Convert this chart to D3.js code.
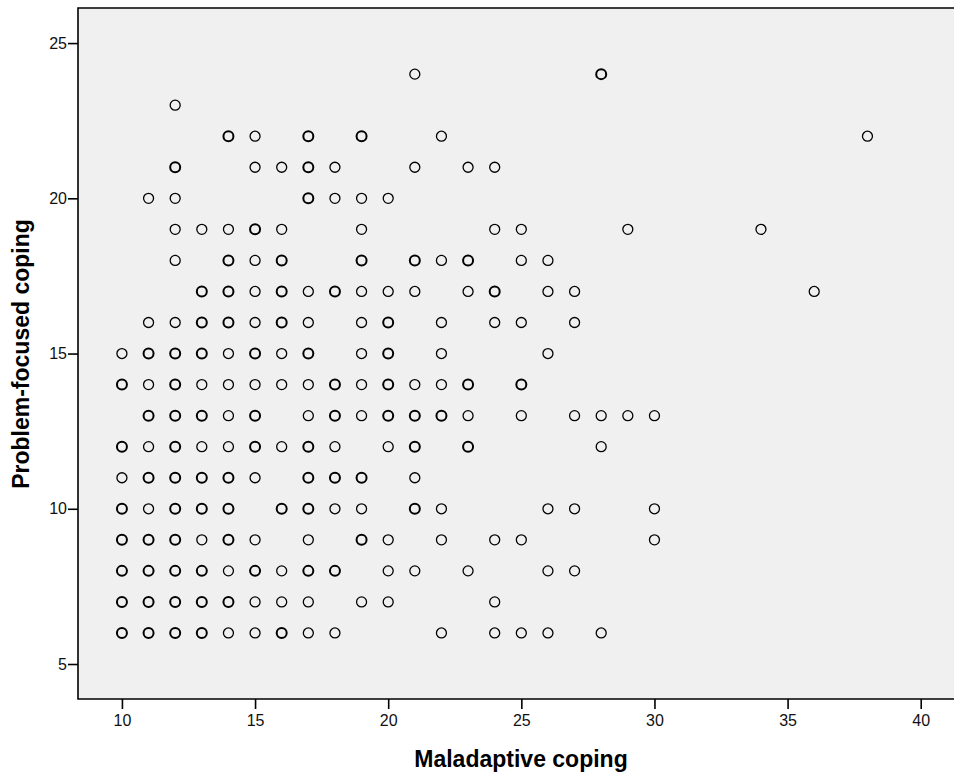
<!DOCTYPE html>
<html>
<head>
<meta charset="utf-8">
<script src="https://cdn.jsdelivr.net/npm/d3@7"></script>
<style>
  body { margin: 0; background: #ffffff; }
  text { font-family: "Liberation Sans", Arial, sans-serif; }
</style>
</head>
<body>
<div id="scatter"></div>
<script>
// values of Problem-focused coping (one row of points per level)
var problemLevels = [24, 23, 22, 21, 20, 19, 18, 17, 16, 15, 14, 13, 12, 11, 10, 9, 8, 7, 6]

// Maladaptive coping values seen on each level (same order as problemLevels)
var maladaptiveAtLevel = [
  [21, 28],
  [12],
  [14, 15, 17, 19, 22, 38],
  [12, 15, 16, 17, 18, 21, 23, 24],
  [11, 12, 17, 18, 19, 20],
  [12, 13, 14, 15, 16, 19, 24, 25, 29, 34],
  [12, 14, 15, 16, 19, 21, 22, 23, 25, 26],
  [13, 14, 15, 16, 17, 18, 19, 20, 21, 23, 24, 26, 27, 36],
  [11, 12, 13, 14, 15, 16, 17, 19, 20, 22, 24, 25, 27],
  [10, 11, 12, 13, 14, 15, 16, 17, 19, 20, 22, 26],
  [10, 11, 12, 13, 14, 15, 16, 17, 18, 19, 20, 21, 22, 23, 25],
  [11, 12, 13, 14, 15, 17, 18, 19, 20, 21, 22, 23, 25, 27, 28, 29, 30],
  [10, 11, 12, 13, 14, 15, 16, 17, 18, 20, 21, 23, 28],
  [10, 11, 12, 13, 14, 15, 17, 18, 19, 21],
  [10, 11, 12, 13, 14, 16, 17, 18, 19, 21, 22, 26, 27, 30],
  [10, 11, 12, 13, 14, 15, 17, 19, 20, 22, 24, 25, 30],
  [10, 11, 12, 13, 14, 15, 16, 17, 18, 20, 21, 23, 26, 27],
  [10, 11, 12, 13, 14, 15, 16, 17, 19, 20, 24],
  [10, 11, 12, 13, 14, 15, 16, 17, 18, 22, 24, 25, 26, 28]
]

// points that hold more than one case (drawn darker, like overlapping markers)
var repeatedAtLevel = [
  [28],
  [],
  [14, 17, 19],
  [12, 17],
  [17],
  [15],
  [14, 16, 19, 21, 23],
  [13, 14, 16, 18, 24],
  [13, 14, 16, 20],
  [11, 12, 13, 15, 17, 20],
  [10, 12, 18, 20, 23, 25],
  [11, 12, 13, 15, 18, 20, 21, 22],
  [10, 12, 15, 17, 21, 23],
  [11, 12, 13, 14, 17, 18, 19],
  [10, 12, 13, 14, 16, 17, 21],
  [10, 11, 12, 14, 19],
  [10, 11, 12, 13, 15, 17, 18],
  [10, 11, 12, 13, 14],
  [10, 11, 12, 13, 16]
]

var xTicks = [10, 15, 20, 25, 30, 35, 40]
var yTicks = [5, 10, 15, 20, 25]
var xTitle = "Maladaptive coping"
var yTitle = "Problem-focused coping"

// build the list of points from the rows
var points = []
for (var i = 0; i < problemLevels.length; i++) {
  for (var j = 0; j < maladaptiveAtLevel[i].length; j++) {
    var xv = maladaptiveAtLevel[i][j]
    points.push({
      x: xv,
      y: problemLevels[i],
      repeated: repeatedAtLevel[i].indexOf(xv) > -1
    })
  }
}

// sizes of the drawing
var widthSvg = 954
var heightSvg = 776
var plotLeft = 78
var plotRight = 953
var plotTop = 8
var plotBottom = 699

var svg = d3.select("#scatter")
  .append("svg")
  .attr("width", widthSvg)
  .attr("height", heightSvg)

// scales
var scaleX = d3.scaleLinear()
  .domain([8.35, 41.25])
  .range([plotLeft, plotRight + 1])

var scaleY = d3.scaleLinear()
  .domain([3.873, 26.13])
  .range([plotBottom, plotTop])

// grey plot area
svg.append("rect")
  .attr("x", plotLeft)
  .attr("y", plotTop)
  .attr("width", plotRight - plotLeft + 1)
  .attr("height", plotBottom - plotTop)
  .attr("fill", "#f0f0f0")

// frame lines (top, left, bottom)
svg.append("path")
  .attr("d", "M" + (plotRight + 1) + "," + plotTop + "H" + plotLeft + "V" + plotBottom + "H" + (plotRight + 1))
  .attr("fill", "none")
  .attr("stroke", "#000")
  .attr("stroke-width", 1.6)

// axes
var xAxis = d3.axisBottom(scaleX)
  .tickValues(xTicks)
  .tickSize(10)
  .tickPadding(6)

var yAxis = d3.axisLeft(scaleY)
  .tickValues(yTicks)
  .tickSize(10)
  .tickPadding(1)

var gx = svg.append("g")
  .attr("transform", "translate(0," + plotBottom + ")")
  .call(xAxis)

var gy = svg.append("g")
  .attr("transform", "translate(" + plotLeft + ",0)")
  .call(yAxis)

gx.select(".domain").remove()
gy.select(".domain").remove()

svg.selectAll(".tick line")
  .attr("stroke", "#000")
  .attr("stroke-width", 1.6)

svg.selectAll(".tick text")
  .attr("fill", "#111")
  .style("font-size", "16px")
  .style("font-family", "'Liberation Sans', Arial, sans-serif")

// the points
svg.append("g")
  .selectAll("circle")
  .data(points)
  .enter()
  .append("circle")
  .attr("cx", function(d) { return scaleX(d.x) })
  .attr("cy", function(d) { return scaleY(d.y) })
  .attr("r", 5)
  .attr("fill", "none")
  .attr("stroke", "#000")
  .attr("stroke-width", function(d) { return d.repeated ? 2 : 1.3 })

// axis titles
svg.append("text")
  .attr("x", 521)
  .attr("y", 767)
  .attr("text-anchor", "middle")
  .style("font-size", "23px")
  .style("font-weight", "bold")
  .text(xTitle)

svg.append("text")
  .attr("transform", "translate(29,354) rotate(-90)")
  .attr("text-anchor", "middle")
  .style("font-size", "23px")
  .style("font-weight", "bold")
  .text(yTitle)
</script>
</body>
</html>
